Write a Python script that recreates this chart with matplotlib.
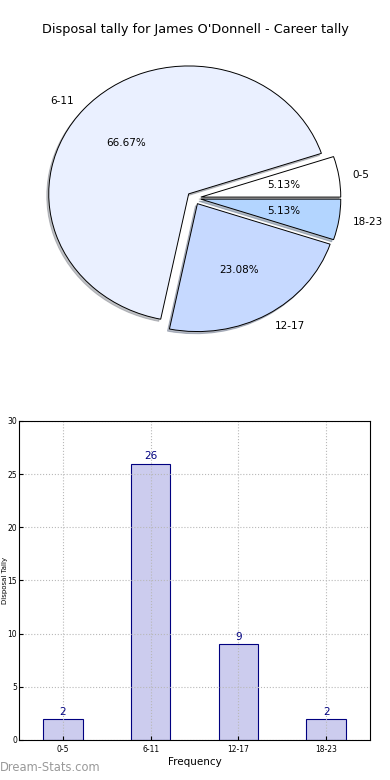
import matplotlib
matplotlib.use("Agg")
import matplotlib.pyplot as plt

# pie data
labels = ["0-5", "6-11", "12-17", "18-23"]
counts = [2, 26, 9, 2]
pie_colors = ["#ffffff", "#eaf0ff", "#c6d9ff", "#b3d5ff"]
explode = [0.05, 0.05, 0.05, 0.05]

# bar data
bar_categories = ["0-5", "6-11", "12-17", "18-23"]
bar_values = [2, 26, 9, 2]

fig = plt.figure(figsize=(3.9, 7.8), dpi=100)

# pie chart on top
ax1 = fig.add_axes([0.0487, 0.541, 0.897, 0.410])
ax1.pie(counts, labels=labels, colors=pie_colors, explode=explode,
        autopct="%1.2f%%", shadow={"ox": -0.01, "oy": -0.012, "shade": 0.45},
        startangle=0,
        wedgeprops=dict(edgecolor="black", linewidth=0.7),
        textprops=dict(fontsize=7.5))
ax1.set_aspect("auto")
ax1.set_xlim(-1.25, 1.25)
ax1.set_ylim(-1.25, 1.25)
fig.text(0.5, 1 - 30 / 780, "Disposal tally for James O'Donnell - Career tally",
         ha="center", va="center", fontsize=9.3)

# bar chart below
ax2 = fig.add_axes([0.0487, 0.0513, 0.9, 0.409])
x = range(len(bar_categories))
ax2.bar(x, bar_values, width=0.45, color="#ccccee", edgecolor="#000080", linewidth=0.8, zorder=2)
for xi, v in zip(x, bar_values):
    ax2.text(xi, v + 0.2, str(v), ha="center", va="bottom", color="#000080", fontsize=7.5)
ax2.set_xlim(-0.5, 3.5)
ax2.set_ylim(0, 30)
ax2.set_xticks(list(x))
ax2.set_xticklabels(bar_categories)
ax2.set_yticks(range(0, 31, 5))
ax2.tick_params(labelsize=5.5, direction="in", length=3)
ax2.tick_params(axis="y", pad=1.2)
ax2.grid(True, linestyle=":", color="#b8b8b8", linewidth=0.8, zorder=3)
ax2.set_axisbelow(False)
for s in ax2.spines.values():
    s.set_zorder(5)
ax2.set_xlabel("Frequency", fontsize=7.5, labelpad=2)
ax2.set_ylabel("Disposal Tally", fontsize=5)
ax2.yaxis.set_label_coords(-0.032, 0.5)

fig.text(0.0, 0.008, "Dream-Stats.com", fontsize=8.3, color="#999999",
         ha="left", va="bottom")

fig.savefig("out.png", dpi=100)
